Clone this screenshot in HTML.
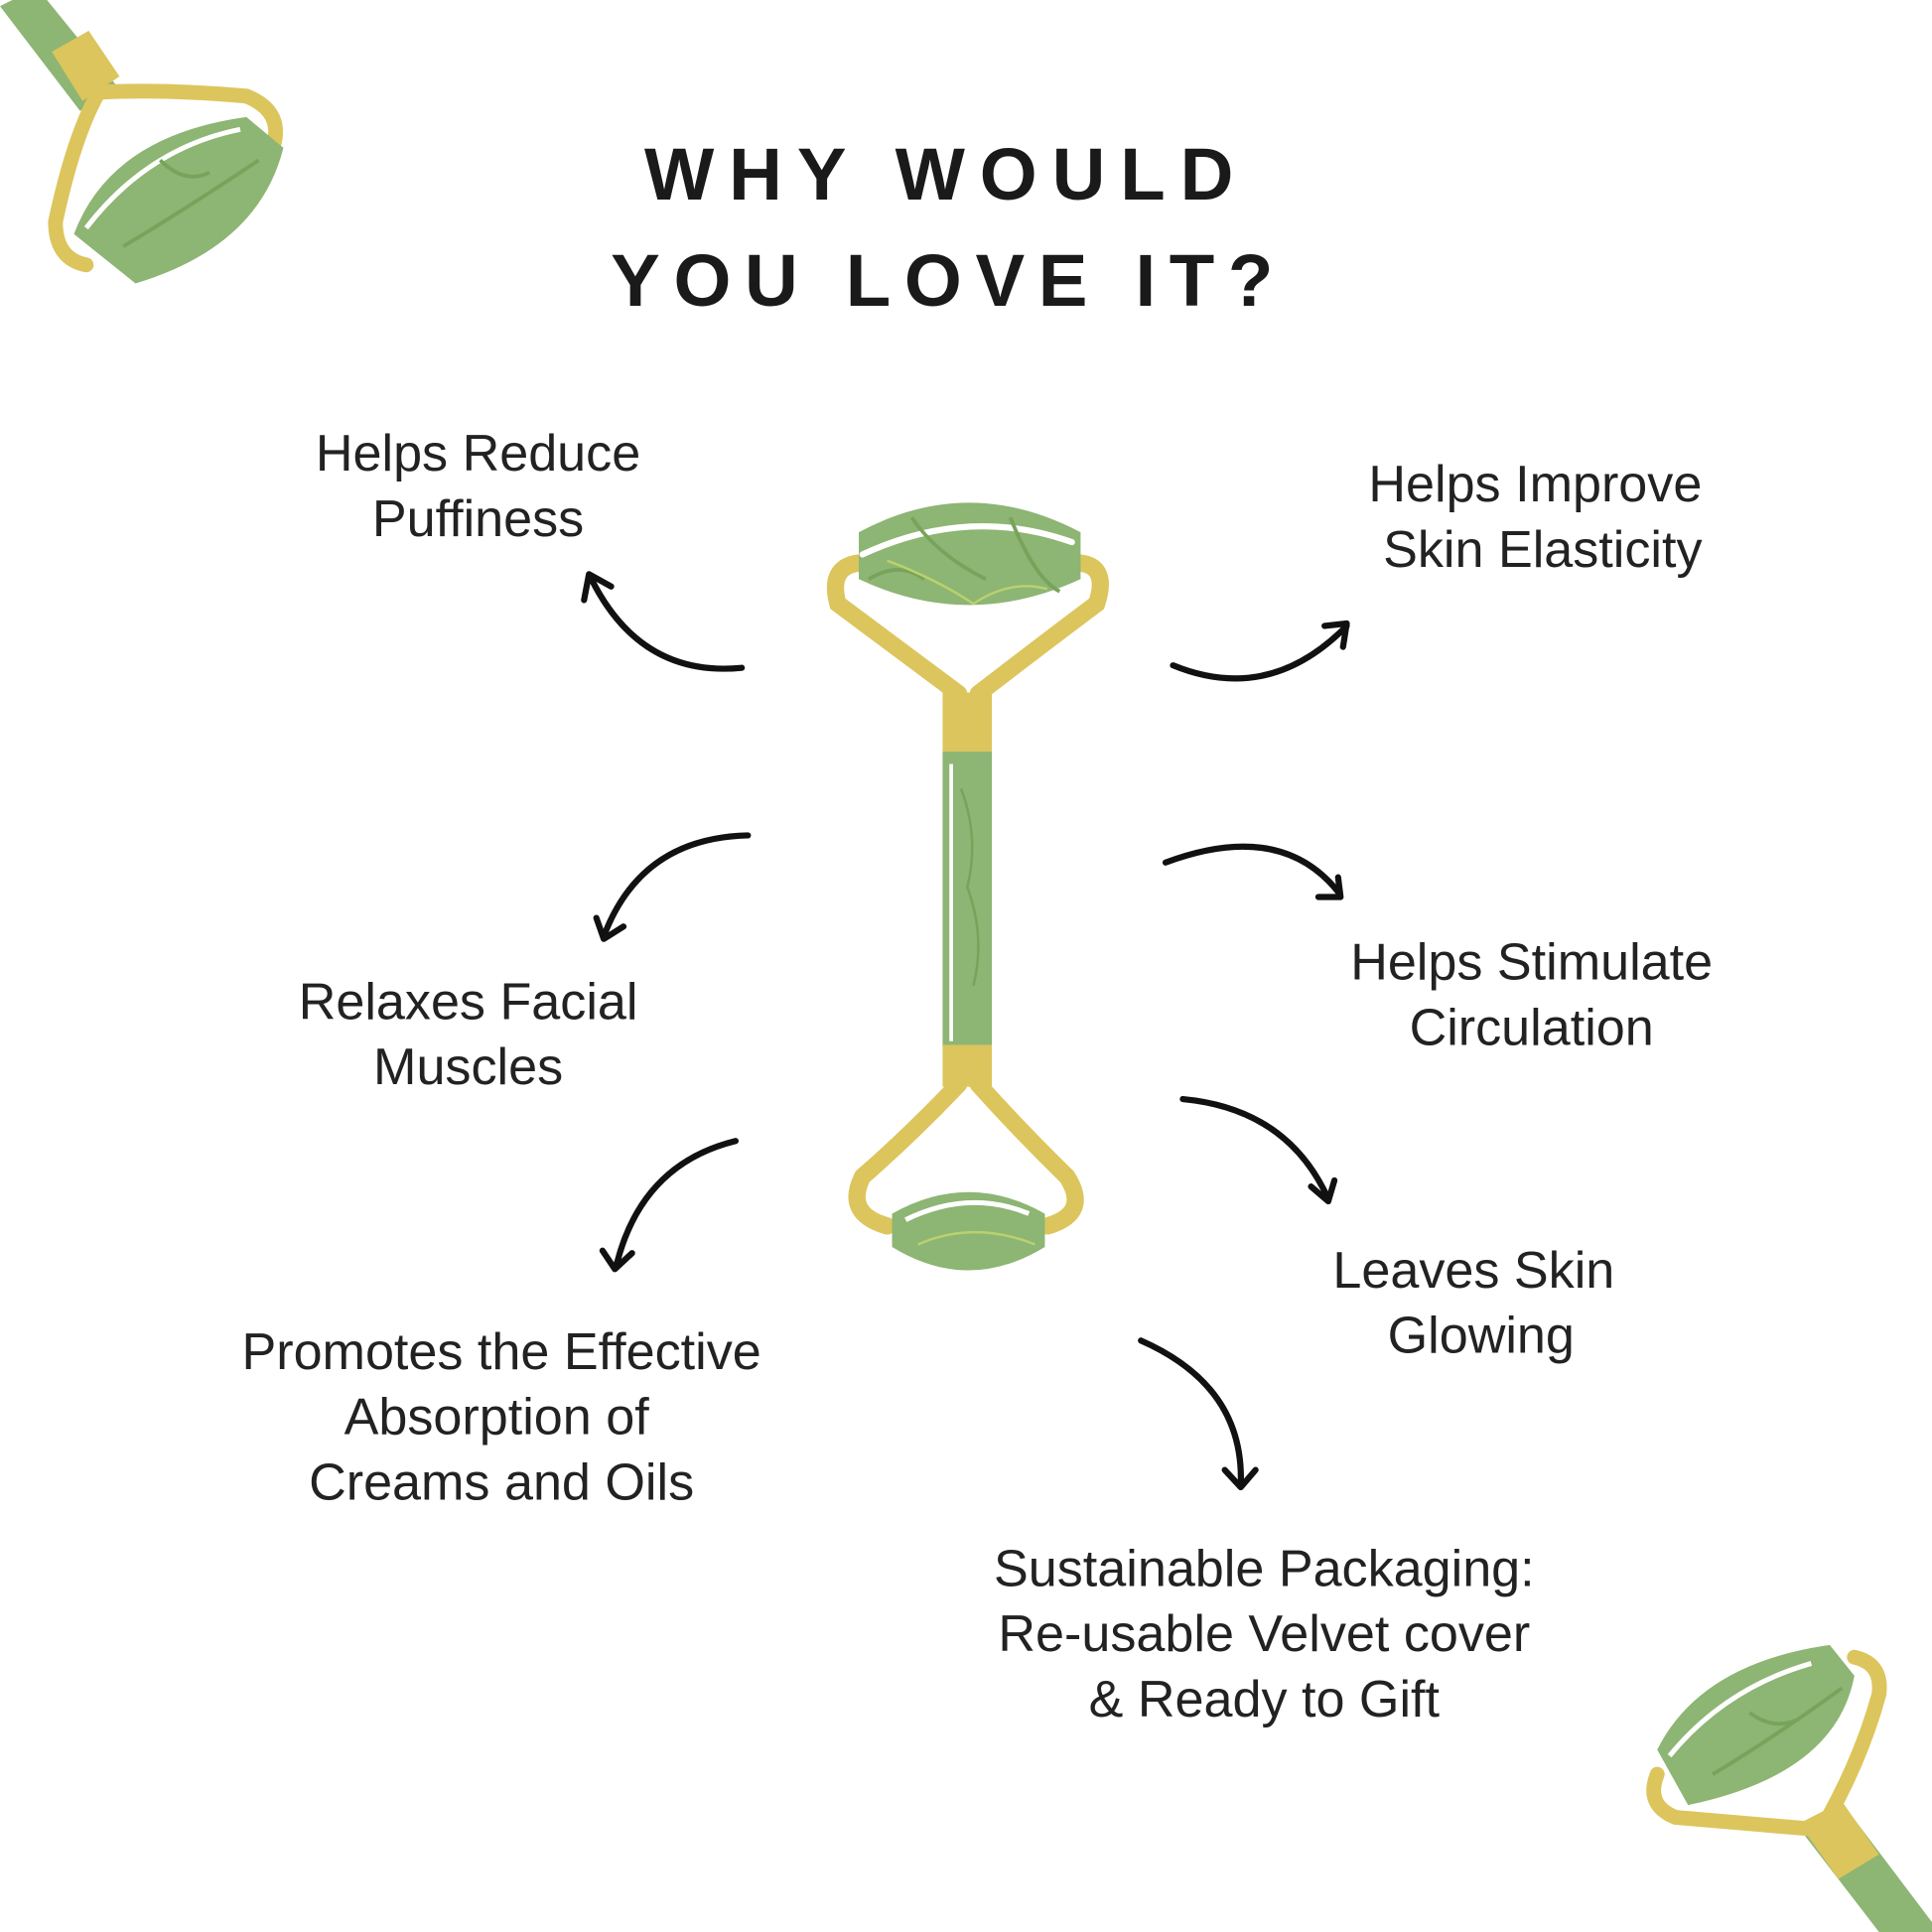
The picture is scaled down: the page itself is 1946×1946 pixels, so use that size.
<!DOCTYPE html>
<html><head><meta charset="utf-8"><style>
html,body{margin:0;padding:0;background:#fff;}
svg{display:block;}
text{font-family:"Liberation Sans",sans-serif;fill:#222;}
</style></head><body>
<svg width="1946" height="1946" viewBox="0 0 1568 1568" xmlns="http://www.w3.org/2000/svg">
<defs>
<g id="rollTop">
  <path d="M697,432 Q786,384 877,432 L877,470 Q786,512 697,470 Z" fill="#8db573"/>
  <path d="M700,450 Q786,410 870,440" stroke="#fff" stroke-width="5" fill="none" stroke-linecap="round"/>
  <path d="M740,420 Q760,450 800,470 M820,420 Q840,470 860,480 M705,470 Q730,455 750,470" stroke="#77a35a" stroke-width="3" fill="none"/>
  <path d="M720,455 Q760,470 790,490 Q820,470 850,478" stroke="#b9d16e" stroke-width="2" fill="none"/>
</g>
</defs>
<text x="768" y="162" text-anchor="middle" font-size="60" font-weight="bold" letter-spacing="12" style="fill:#1a1a1a">WHY WOULD</text>
<text x="770" y="248" text-anchor="middle" font-size="60" font-weight="bold" letter-spacing="11" style="fill:#1a1a1a">YOU LOVE IT?</text>

<g fill="none" stroke="#dcc55c" stroke-width="14" stroke-linecap="round">
  <path d="M697,457 Q672,460 680,490 Q720,520 778,563"/>
  <path d="M877,457 Q900,460 890,490 Q850,520 794,563"/>
  <path d="M778,880 Q740,920 700,955 Q685,985 720,995"/>
  <path d="M794,880 Q830,920 866,955 Q885,985 850,995"/>
</g>
<use href="#rollTop"/>
<rect x="765" y="562" width="40" height="48" fill="#dcc55c"/>
<rect x="765" y="610" width="40" height="240" fill="#8db573"/>
<path d="M772,620 L772,845" stroke="#fff" stroke-width="3"/>
<path d="M780,640 Q795,680 785,720 Q800,760 790,800" stroke="#77a35a" stroke-width="2" fill="none"/>
<rect x="765" y="848" width="40" height="34" fill="#dcc55c"/>
<path d="M724,985 Q786,950 848,985 L848,1012 Q786,1050 724,1012 Z" fill="#8db573"/>
<path d="M735,990 Q786,965 835,985" stroke="#fff" stroke-width="4" fill="none"/>
<path d="M745,1010 Q790,990 840,1010" stroke="#b9d16e" stroke-width="2" fill="none"/>

<g fill="none" stroke="#111" stroke-width="5" stroke-linecap="round" stroke-linejoin="round">
  <path d="M602,542 Q520,550 480,470"/><path d="M474,487 L478,466 L496,476"/>
  <path d="M952,540 Q1030,572 1093,508"/><path d="M1075,508 L1093,506 L1090,525"/>
  <path d="M607,678 Q520,680 490,760"/><path d="M484,745 L490,762 L506,752"/>
  <path d="M946,700 Q1040,665 1087,725"/><path d="M1070,728 L1088,728 L1086,712"/>
  <path d="M597,926 Q520,945 500,1028"/><path d="M489,1015 L499,1030 L513,1017"/>
  <path d="M960,892 Q1045,900 1078,973"/><path d="M1064,963 L1078,975 L1083,958"/>
  <path d="M926,1088 Q1010,1125 1007,1205"/><path d="M994,1193 L1007,1207 L1019,1193"/>
</g>

<g font-size="42" text-anchor="middle">
  <text x="388" y="382">Helps Reduce</text><text x="388" y="435">Puffiness</text>
  <text x="1246" y="407">Helps Improve</text><text x="1252" y="460">Skin Elasticity</text>
  <text x="380" y="827">Relaxes Facial</text><text x="380" y="880">Muscles</text>
  <text x="1243" y="795">Helps Stimulate</text><text x="1243" y="848">Circulation</text>
  <text x="407" y="1111">Promotes the Effective</text><text x="403" y="1164">Absorption of</text><text x="407" y="1217">Creams and Oils</text>
  <text x="1196" y="1045">Leaves Skin</text><text x="1202" y="1098">Glowing</text>
  <text x="1026" y="1287">Sustainable Packaging:</text><text x="1026" y="1340">Re-usable Velvet cover</text><text x="1026" y="1393">&amp; Ready to Gift</text>
</g>

<g>
  <path d="M0,5 L30,-10 L95,70 L65,90 Z" fill="#8db573"/>
  <path d="M42,42 L72,25 L97,62 L67,82 Z" fill="#dcc55c"/>
  <g fill="none" stroke="#dcc55c" stroke-width="12" stroke-linecap="round">
    <path d="M80,75 Q60,110 45,180 Q45,210 70,215"/>
    <path d="M80,75 Q130,72 200,78 Q230,90 222,118"/>
  </g>
  <path d="M60,190 Q90,110 200,95 L230,120 Q210,200 110,230 Z" fill="#8db573"/>
  <path d="M70,185 Q120,120 195,105" stroke="#fff" stroke-width="4" fill="none"/>
  <path d="M100,200 Q150,170 210,130 M130,130 Q150,150 170,140" stroke="#77a35a" stroke-width="3" fill="none"/>
</g>

<g>
  <path d="M1465,1490 L1500,1470 L1568,1560 L1568,1568 L1525,1568 Z" fill="#8db573"/>
  <path d="M1460,1480 L1495,1462 L1525,1505 L1492,1525 Z" fill="#dcc55c"/>
  <g fill="none" stroke="#dcc55c" stroke-width="12" stroke-linecap="round">
    <path d="M1478,1485 Q1510,1430 1525,1375 Q1528,1350 1505,1345"/>
    <path d="M1478,1485 Q1420,1480 1360,1475 Q1335,1465 1345,1440"/>
  </g>
  <path d="M1345,1420 Q1380,1350 1485,1335 L1505,1360 Q1490,1440 1370,1465 Z" fill="#8db573"/>
  <path d="M1355,1425 Q1400,1370 1470,1350" stroke="#fff" stroke-width="4" fill="none"/>
  <path d="M1390,1440 Q1440,1410 1495,1370 M1420,1390 Q1440,1405 1460,1395" stroke="#77a35a" stroke-width="3" fill="none"/>
</g>
</svg>
</body></html>
